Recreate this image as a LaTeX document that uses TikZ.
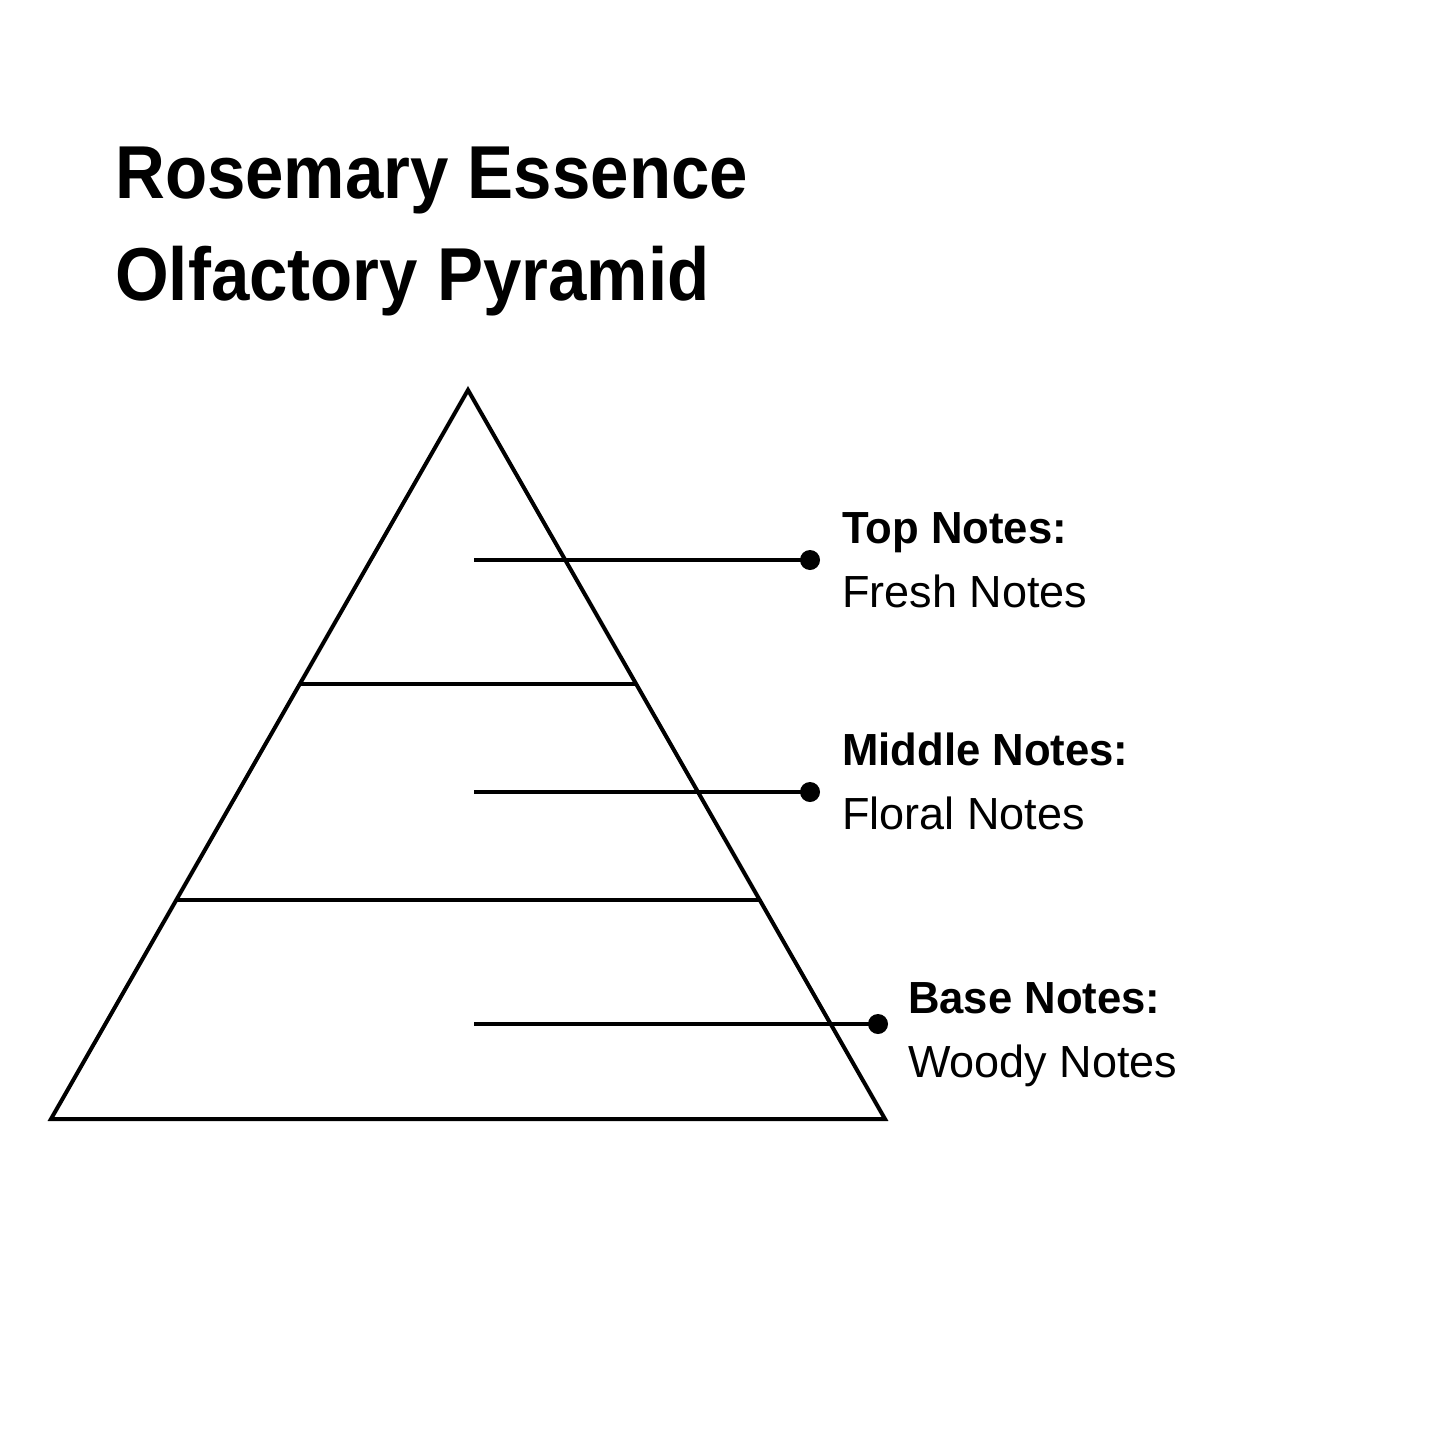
\documentclass[tikz,border=0pt]{standalone}
\usepackage{fontspec}
\setmainfont{Liberation Sans}
\newfontfamily\titlefont{Liberation Sans Bold}[FakeStretch=0.92]
\newfontfamily\headfont{Liberation Sans Bold}[FakeStretch=0.97]
\begin{document}
\begin{tikzpicture}[x=1pt,y=-1pt,
  edge/.style={line width=4pt},
  title/.style={inner sep=0pt,anchor=base west,font=\fontsize{75}{90}\titlefont},
  head/.style={inner sep=0pt,anchor=base west,font=\fontsize{45}{54}\headfont},
  sub/.style={inner sep=0pt,anchor=base west,font=\fontsize{45}{54}\selectfont},
  dot/.style={circle,fill=black,inner sep=0pt,minimum size=20pt}]
\useasboundingbox (0,0) rectangle (1445,1445);
\coordinate (apex) at (468,390);
\coordinate (bl) at (51,1119);
\coordinate (br) at (885,1119);
\draw[edge,line join=miter] (apex) -- (bl) -- (br) -- cycle;
\coordinate (l1a) at (301,684); \coordinate (l1b) at (636,684);
\coordinate (l2a) at (176,900); \coordinate (l2b) at (759,900);
\draw[edge] (l1a) -- (l1b);
\draw[edge] (l2a) -- (l2b);
\node[title] (t1) at (115,198) {Rosemary Essence};
\node[title] (t2) at (115,300) {Olfactory Pyramid};
\coordinate (s1) at (474,560); \node[dot] (d1) at (810,560) {};
\coordinate (s2) at (474,792); \node[dot] (d2) at (810,792) {};
\coordinate (s3) at (474,1024); \node[dot] (d3) at (878,1024) {};
\draw[edge] (s1) -- (d1.center);
\draw[edge] (s2) -- (d2.center);
\draw[edge] (s3) -- (d3.center);
\node[head] (h1) at (842,543) {Top Notes:};
\node[sub] (n1) at (842,607) {Fresh Notes};
\node[head] (h2) at (842,765) {Middle Notes:};
\node[sub] (n2) at (842,829) {Floral Notes};
\node[head] (h3) at (908,1013) {Base Notes:};
\node[sub] (n3) at (908,1077) {Woody Notes};
\end{tikzpicture}
\end{document}
